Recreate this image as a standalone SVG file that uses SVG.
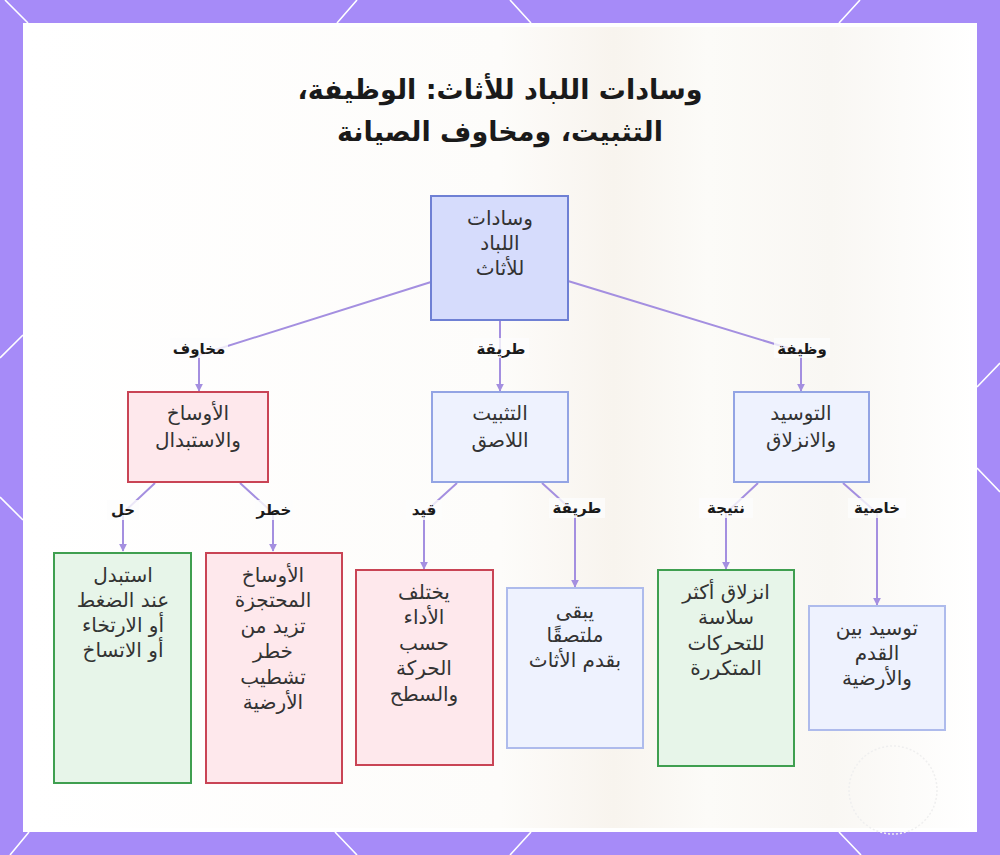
<svg xmlns="http://www.w3.org/2000/svg" width="1000" height="855" viewBox="0 0 1000 855">
<style>
.t{font-family:"DejaVu Sans","Noto Sans",sans-serif;fill:#333;font-size:20px;text-anchor:middle;direction:rtl}
.title{font-family:"DejaVu Sans","Noto Sans",sans-serif;fill:#1a1a1a;font-size:27px;font-weight:bold;text-anchor:middle;direction:rtl}
.lbl{font-family:"DejaVu Sans","Noto Sans",sans-serif;fill:#1a1a1a;font-size:15px;font-weight:bold;text-anchor:middle;direction:rtl}
.e{fill:none;stroke:#a48fe0;stroke-width:2;marker-end:url(#ah)}
.root{fill:#d6dcfc;stroke:#6f80d4;stroke-width:2}
.blue{fill:#eef2fe;stroke:#aebbec;stroke-width:2}
.blue2{fill:#eef2fe;stroke:#93a4e4;stroke-width:2}
.red{fill:#fee8ec;stroke:#c94455;stroke-width:2}
.green{fill:#e7f5e9;stroke:#3f9f50;stroke-width:2}
.hx{stroke:#ffffff;stroke-width:1.6;fill:none}
.lb{fill:#fdfdfd;opacity:0.8}
</style>
<defs>
<marker id="ah" viewBox="0 0 10 10" refX="9" refY="5" markerWidth="4" markerHeight="4" orient="auto">
<path d="M0,0 L10,5 L0,10 z" fill="#a48fe0"/>
</marker>
<linearGradient id="bg" x1="0" y1="0" x2="1" y2="0">
<stop offset="0" stop-color="#ffffff"/>
<stop offset="0.5" stop-color="#fdfcfa"/>
<stop offset="0.62" stop-color="#f8f4ee"/>
<stop offset="0.72" stop-color="#fcfbf8"/>
<stop offset="0.85" stop-color="#f9f7f3"/>
<stop offset="1" stop-color="#ffffff"/>
</linearGradient>
</defs>
<g id="frame">
<rect x="0" y="0" width="1000" height="855" fill="#a68bf8"/>
<path class="hx" d="M5,0 L28,23 M357,0 L337,23 M510,0 L531,23 M860,0 L839,23 M0,358 L23,335 M0,497 L23,520 M977,387 L1000,363 M977,468 L1000,492 M29,832 L10,855 M335,832 L357,855 M531,832 L510,855 M839,832 L861,855"/>
<rect x="23" y="23" width="954" height="809" fill="#ffffff"/>
<rect x="27" y="27" width="946" height="801" fill="url(#bg)"/>
<circle cx="893" cy="790" r="44" fill="none" stroke="#efefef" stroke-width="1.5" stroke-dasharray="2 2"/>
</g>
<g id="title">
<text class="title" x="500" y="99">وسادات اللباد للأثاث: الوظيفة،</text>
<text class="title" x="500" y="141">التثبيت، ومخاوف الصيانة</text>
</g>
<g id="connectors">
<path class="e" d="M431,282 L199,355 L199,391"/>
<path class="e" d="M500,320 L500,391"/>
<path class="e" d="M568,281 L801,352 L801,391"/>
<path class="e" d="M155,483 L123,513 L123,551"/>
<path class="e" d="M240,483 L273,513 L273,551"/>
<path class="e" d="M457,483 L424,513 L424,569"/>
<path class="e" d="M542,483 L575,513 L575,587"/>
<path class="e" d="M758,483 L726,513 L726,569"/>
<path class="e" d="M843,483 L877,513 L877,605"/>
</g>
<g id="edge-labels">
<rect class="lb" x="170" y="338" width="58" height="20"/>
<text class="lbl" x="199" y="354">مخاوف</text>
<rect class="lb" x="473" y="338" width="56" height="20"/>
<text class="lbl" x="501" y="354">طريقة</text>
<rect class="lb" x="774" y="338" width="56" height="20"/>
<text class="lbl" x="802" y="354">وظيفة</text>
<rect class="lb" x="107" y="500" width="32" height="20"/>
<text class="lbl" x="123" y="515">حل</text>
<rect class="lb" x="255" y="500" width="38" height="20"/>
<text class="lbl" x="274" y="515">خطر</text>
<rect class="lb" x="406" y="500" width="36" height="20"/>
<text class="lbl" x="424" y="515">قيد</text>
<rect class="lb" x="549" y="498" width="56" height="20"/>
<text class="lbl" x="577" y="513">طريقة</text>
<rect class="lb" x="699" y="498" width="54" height="20"/>
<text class="lbl" x="726" y="513">نتيجة</text>
<rect class="lb" x="848" y="498" width="58" height="20"/>
<text class="lbl" x="877" y="513">خاصية</text>
</g>
<g id="n-root">
<rect class="root" x="431" y="196" width="137" height="124"/>
<text class="t" x="500" y="225">وسادات</text>
<text class="t" x="500" y="250">اللباد</text>
<text class="t" x="500" y="275">للأثاث</text>
</g>
<g id="n-dirt">
<rect class="red" x="128" y="392" width="140" height="90"/>
<text class="t" x="198" y="420">الأوساخ</text>
<text class="t" x="198" y="447">والاستبدال</text>
</g>
<g id="n-adhesive">
<rect class="blue2" x="432" y="392" width="136" height="90"/>
<text class="t" x="500" y="420">التثبيت</text>
<text class="t" x="500" y="447">اللاصق</text>
</g>
<g id="n-cushion">
<rect class="blue2" x="734" y="392" width="135" height="90"/>
<text class="t" x="801" y="420">التوسيد</text>
<text class="t" x="801" y="447">والانزلاق</text>
</g>
<g id="n-replace">
<rect class="green" x="54" y="553" width="137" height="230"/>
<text class="t" x="123" y="582">استبدل</text>
<text class="t" x="123" y="607">عند الضغط</text>
<text class="t" x="123" y="632">أو الارتخاء</text>
<text class="t" x="123" y="657">أو الاتساخ</text>
</g>
<g id="n-risk">
<rect class="red" x="206" y="553" width="136" height="230"/>
<text class="t" x="273" y="582">الأوساخ</text>
<text class="t" x="273" y="607">المحتجزة</text>
<text class="t" x="273" y="633">تزيد من</text>
<text class="t" x="273" y="658">خطر</text>
<text class="t" x="273" y="684">تشطيب</text>
<text class="t" x="273" y="709">الأرضية</text>
</g>
<g id="n-varies">
<rect class="red" x="356" y="570" width="137" height="195"/>
<text class="t" x="424" y="599">يختلف</text>
<text class="t" x="424" y="624">الأداء</text>
<text class="t" x="424" y="650">حسب</text>
<text class="t" x="424" y="675">الحركة</text>
<text class="t" x="424" y="701">والسطح</text>
</g>
<g id="n-stays">
<rect class="blue" x="507" y="588" width="136" height="160"/>
<text class="t" x="575" y="618">يبقى</text>
<text class="t" x="575" y="642">ملتصقًا</text>
<text class="t" x="575" y="667">بقدم الأثاث</text>
</g>
<g id="n-smooth">
<rect class="green" x="658" y="570" width="136" height="196"/>
<text class="t" x="726" y="599">انزلاق أكثر</text>
<text class="t" x="726" y="624">سلاسة</text>
<text class="t" x="726" y="650">للتحركات</text>
<text class="t" x="726" y="675">المتكررة</text>
</g>
<g id="n-between">
<rect class="blue" x="809" y="606" width="136" height="124"/>
<text class="t" x="877" y="635">توسيد بين</text>
<text class="t" x="877" y="660">القدم</text>
<text class="t" x="877" y="685">والأرضية</text>
</g>
</svg>
